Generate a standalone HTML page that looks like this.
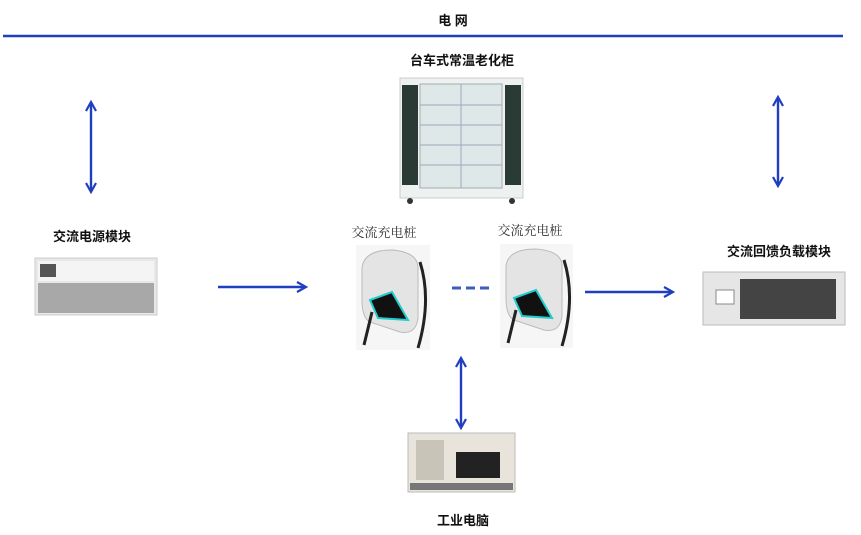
<!DOCTYPE html>
<html><head><meta charset="utf-8"><style>
body{margin:0;background:#fff;width:861px;height:535px;overflow:hidden;position:relative;font-family:"Liberation Sans","Noto Sans CJK SC",sans-serif}
.t{position:absolute;font-size:13px;color:#111;font-weight:bold;white-space:nowrap;transform:translateX(-50%)}
.s{font-family:"Liberation Serif","Noto Serif CJK SC",serif;font-weight:normal;color:#333}
svg{position:absolute;left:0;top:0}
</style></head><body>
<div class="t" style="left:453px;top:10px">电 网</div>
<div class="t" style="left:462px;top:50px">台车式常温老化柜</div>
<div class="t" style="left:92px;top:226px">交流电源模块</div>
<div class="t s" style="left:384px;top:222px">交流充电桩</div>
<div class="t s" style="left:530px;top:220px">交流充电桩</div>
<div class="t" style="left:779px;top:241px">交流回馈负载模块</div>
<div class="t" style="left:463px;top:510px">工业电脑</div>
<svg width="861" height="535">
<defs><marker id="a" markerWidth="12" markerHeight="12" refX="9" refY="6" orient="auto-start-reverse" markerUnits="userSpaceOnUse"><path d="M1,1 L10,6 L1,11" fill="none" stroke="#1f3fbf" stroke-width="2.2"/></marker></defs>
<line x1="3" y1="36" x2="843" y2="36" stroke="#1f3fbf" stroke-width="2.5"/>
<g stroke="#1f3fbf" stroke-width="2.4" marker-start="url(#a)" marker-end="url(#a)">
<line x1="91" y1="103" x2="91" y2="191"/>
<line x1="778" y1="98" x2="778" y2="185"/>
<line x1="461" y1="359" x2="461" y2="427"/>
</g>
<g stroke="#1f3fbf" stroke-width="2.4" marker-end="url(#a)">
<line x1="218" y1="287" x2="305" y2="287"/>
<line x1="585" y1="292" x2="672" y2="292"/>
</g>
<line x1="452" y1="288" x2="489" y2="288" stroke="#3a5fbf" stroke-width="3" stroke-dasharray="9,5"/>
<!-- cabinet -->
<rect x="400" y="78" width="123" height="120" fill="#eef1f1" stroke="#ccc"/>
<rect x="420" y="84" width="82" height="104" fill="#dfe8e8" stroke="#aaa"/>
<g stroke="#9ab" stroke-width="1"><line x1="420" y1="105" x2="502" y2="105"/><line x1="420" y1="125" x2="502" y2="125"/><line x1="420" y1="145" x2="502" y2="145"/><line x1="420" y1="165" x2="502" y2="165"/><line x1="461" y1="84" x2="461" y2="188"/></g>
<g fill="#2a3a35"><rect x="402" y="85" width="16" height="100"/><rect x="505" y="85" width="16" height="100"/></g>
<circle cx="410" cy="201" r="3" fill="#333"/><circle cx="512" cy="201" r="3" fill="#333"/>
<!-- power module -->
<rect x="35" y="258" width="122" height="57" fill="#e8e8e8" stroke="#ccc"/>
<rect x="38" y="261" width="116" height="20" fill="#f4f4f4"/>
<rect x="40" y="264" width="16" height="13" fill="#555"/>
<rect x="38" y="283" width="116" height="30" fill="#a8a8a8"/>
<!-- chargers -->
<g>
<rect x="356" y="245" width="74" height="105" fill="#f6f6f6"/>
<path d="M362 268 Q364 250 392 250 Q418 252 418 268 L418 318 Q416 335 400 332 L370 322 Q362 318 362 300Z" fill="#e4e4e4" stroke="#bbb"/>
<path d="M370 300 L392 292 L408 320 L378 318Z" fill="#111" stroke="#2cc" stroke-width="2"/>
<path d="M372 312 L364 345 M420 262 Q432 300 418 348" stroke="#222" stroke-width="3" fill="none"/>
</g>
<g>
<rect x="500" y="244" width="73" height="104" fill="#f6f6f6"/>
<path d="M506 266 Q508 249 536 249 Q562 251 562 266 L562 316 Q560 333 544 330 L514 320 Q506 316 506 298Z" fill="#e4e4e4" stroke="#bbb"/>
<path d="M514 298 L536 290 L552 318 L522 316Z" fill="#111" stroke="#2cc" stroke-width="2"/>
<path d="M516 310 L508 343 M564 260 Q576 298 562 346" stroke="#222" stroke-width="3" fill="none"/>
</g>
<!-- load module -->
<rect x="703" y="272" width="142" height="53" fill="#e6e6e6" stroke="#bbb"/>
<rect x="740" y="279" width="96" height="40" fill="#444"/>
<rect x="716" y="290" width="18" height="14" fill="#fff" stroke="#888"/>
<!-- computer -->
<rect x="408" y="433" width="107" height="59" fill="#e8e4dc" stroke="#bbb"/>
<rect x="416" y="440" width="28" height="40" fill="#c9c4b8"/>
<rect x="456" y="452" width="44" height="26" fill="#222"/>
<rect x="410" y="483" width="103" height="7" fill="#777"/>
</svg>
</body></html>
